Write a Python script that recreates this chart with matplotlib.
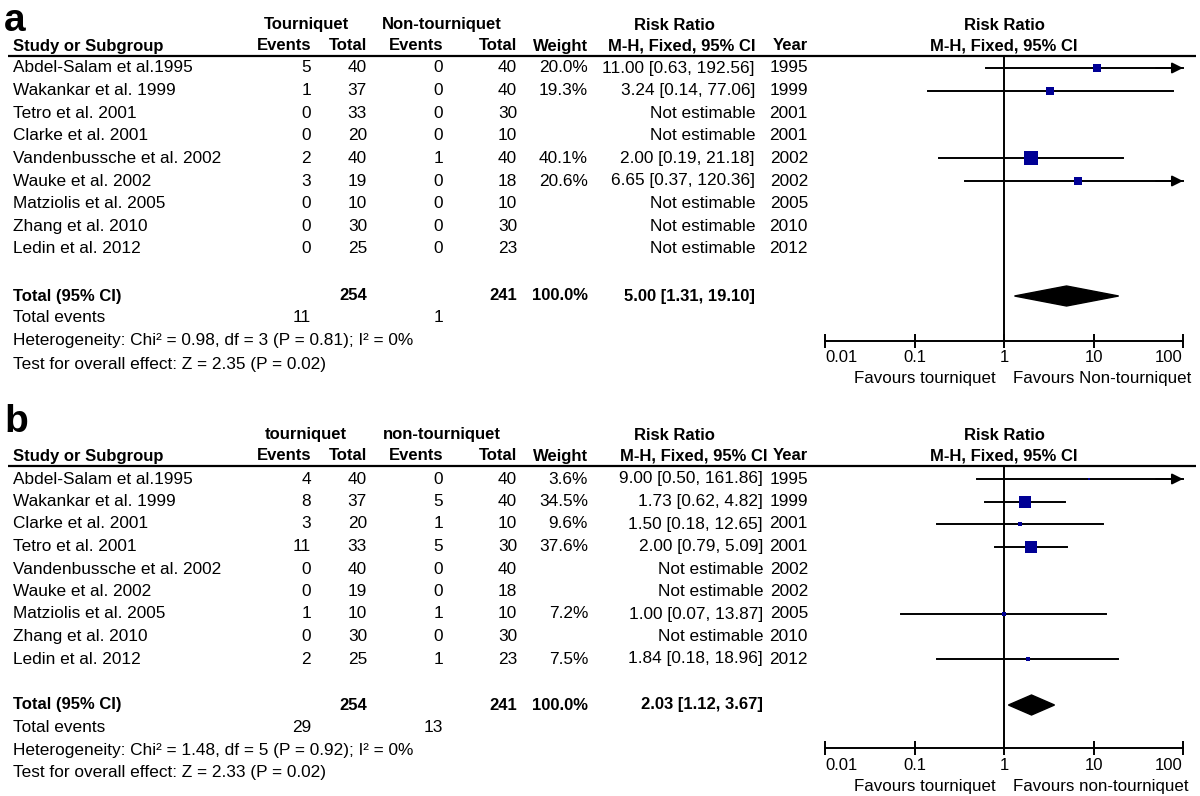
import numpy as np
import matplotlib.pyplot as plt

plt.rcParams['font.family'] = ['Liberation Sans', 'DejaVu Sans']

# ---- panel a data ----
studies_a = ['Abdel-Salam et al.1995', 'Wakankar et al. 1999', 'Tetro et al. 2001',
             'Clarke et al. 2001', 'Vandenbussche et al. 2002', 'Wauke et al. 2002',
             'Matziolis et al. 2005', 'Zhang et al. 2010', 'Ledin et al. 2012']
ev_t_a = [5, 1, 0, 0, 2, 3, 0, 0, 0]
tot_t_a = [40, 37, 33, 20, 40, 19, 10, 30, 25]
ev_c_a = [0, 0, 0, 0, 1, 0, 0, 0, 0]
tot_c_a = [40, 40, 30, 10, 40, 18, 10, 30, 23]
weight_a = [20.0, 19.3, None, None, 40.1, 20.6, None, None, None]
rr_a = [11.00, 3.24, None, None, 2.00, 6.65, None, None, None]
lo_a = [0.63, 0.14, None, None, 0.19, 0.37, None, None, None]
hi_a = [192.56, 77.06, None, None, 21.18, 120.36, None, None, None]
year_a = [1995, 1999, 2001, 2001, 2002, 2002, 2005, 2010, 2012]
total_a = [5.00, 1.31, 19.10]
sum_a = [254, 241, 11, 1]
het_a = 'Heterogeneity: Chi\u00b2 = 0.98, df = 3 (P = 0.81); I\u00b2 = 0%'
test_a = 'Test for overall effect: Z = 2.35 (P = 0.02)'

# ---- panel b data ----
studies_b = ['Abdel-Salam et al.1995', 'Wakankar et al. 1999', 'Clarke et al. 2001',
             'Tetro et al. 2001', 'Vandenbussche et al. 2002', 'Wauke et al. 2002',
             'Matziolis et al. 2005', 'Zhang et al. 2010', 'Ledin et al. 2012']
ev_t_b = [4, 8, 3, 11, 0, 0, 1, 0, 2]
tot_t_b = [40, 37, 20, 33, 40, 19, 10, 30, 25]
ev_c_b = [0, 5, 1, 5, 0, 0, 1, 0, 1]
tot_c_b = [40, 40, 10, 30, 40, 18, 10, 30, 23]
weight_b = [3.6, 34.5, 9.6, 37.6, None, None, 7.2, None, 7.5]
rr_b = [9.00, 1.73, 1.50, 2.00, None, None, 1.00, None, 1.84]
lo_b = [0.50, 0.62, 0.18, 0.79, None, None, 0.07, None, 0.18]
hi_b = [161.86, 4.82, 12.65, 5.09, None, None, 13.87, None, 18.96]
year_b = [1995, 1999, 2001, 2001, 2002, 2002, 2005, 2010, 2012]
total_b = [2.03, 1.12, 3.67]
sum_b = [254, 241, 29, 13]
het_b = 'Heterogeneity: Chi\u00b2 = 1.48, df = 5 (P = 0.92); I\u00b2 = 0%'
test_b = 'Test for overall effect: Z = 2.33 (P = 0.02)'

ticks = [0.01, 0.1, 1, 10, 100]
tick_labels = ['0.01', '0.1', '1', '10', '100']

fig = plt.figure(figsize=(12, 7.96), dpi=100)
tx = fig.add_axes([0, 0, 1, 1])
tx.set_xlim(0, 1200)
tx.set_ylim(796, 0)
tx.axis('off')

fx = fig.add_axes([825 / 1200, 0, (1183 - 825) / 1200, 1])
fx.set_xscale('log')
fx.set_xlim(0.01, 100)
fx.set_ylim(796, 0)
fx.axis('off')

navy = '#000095'
fs = 12.4   # body text
fb = 12     # bold headers
ft = 12     # axis tick labels


def panel(label, grp, studies, ev_t, tot_t, ev_c, tot_c, weight, rr, lo, hi, year,
          total, sums, het, test, favours, y0, ylab, row0, step, ytot, yaxis, rr_right, hd_right):
    # column right edges
    c_ev1, c_tot1, c_ev2, c_tot2, c_w, c_yr = 311, 367, 443, 517, 588, 808
    tx.text(4, ylab, label, fontsize=28, fontweight='bold', va='baseline', ha='left')
    hy1, hy2, hline = y0 + 10, y0 + 31, y0 + 41
    tx.text(306, hy1, grp[0], fontsize=fb, fontweight='bold', ha='center', va='center')
    tx.text(442, hy1, grp[1], fontsize=fb, fontweight='bold', ha='center', va='center')
    tx.text(674, hy1, 'Risk Ratio', fontsize=fb, fontweight='bold', ha='center', va='center')
    fx.text(1, hy1, 'Risk Ratio', fontsize=fb, fontweight='bold', ha='center', va='center')
    tx.text(13, hy2, 'Study or Subgroup', fontsize=fb, fontweight='bold', va='center')
    for x, s in [(c_ev1, 'Events'), (c_tot1, 'Total'), (c_ev2, 'Events'), (c_tot2, 'Total'),
                 (c_w, 'Weight'), (hd_right, 'M-H, Fixed, 95% CI'), (c_yr, 'Year')]:
        tx.text(x, hy2, s, fontsize=fb, fontweight='bold', ha='right', va='center')
    fx.text(1, hy2, 'M-H, Fixed, 95% CI', fontsize=fb, fontweight='bold', ha='center', va='center')
    tx.plot([8, 1196], [hline, hline], color='black', lw=1.6, solid_capstyle='butt')

    for i in range(len(studies)):
        y = row0 + i * step
        tx.text(13, y, studies[i], fontsize=fs, va='center')
        for x, v in [(c_ev1, ev_t[i]), (c_tot1, tot_t[i]), (c_ev2, ev_c[i]), (c_tot2, tot_c[i]),
                     (c_yr, year[i])]:
            tx.text(x, y, str(v), fontsize=fs, ha='right', va='center')
        if rr[i] is None:
            tx.text(rr_right, y, 'Not estimable', fontsize=fs, ha='right', va='center')
            continue
        tx.text(c_w, y, '%.1f%%' % weight[i], fontsize=fs, ha='right', va='center')
        tx.text(rr_right, y, '%.2f [%.2f, %.2f]' % (rr[i], lo[i], hi[i]),
                fontsize=fs, ha='right', va='center')
        right = min(hi[i], 100)
        fx.plot([lo[i], right], [y, y], color='black', lw=1.4, clip_on=False)
        if hi[i] > 100:
            fx.annotate('', xy=(100, y), xytext=(50, y),
                        arrowprops=dict(arrowstyle='-|>', color='black', lw=1.4,
                                        mutation_scale=16, shrinkA=0, shrinkB=0))
        side = 1.5 + 0.29 * weight[i]
        fx.plot(rr[i], y, marker='s', color=navy, markersize=side * 0.72,
                markeredgewidth=0, clip_on=False, zorder=3)

    # total row
    tx.text(13, ytot, 'Total (95% CI)', fontsize=fb, fontweight='bold', va='center')
    tx.text(c_tot1, ytot, str(sums[0]), fontsize=fb, fontweight='bold', ha='right', va='center')
    tx.text(c_tot2, ytot, str(sums[1]), fontsize=fb, fontweight='bold', ha='right', va='center')
    tx.text(c_w, ytot, '100.0%', fontsize=fb, fontweight='bold', ha='right', va='center')
    tx.text(rr_right, ytot, '%.2f [%.2f, %.2f]' % tuple(total), fontsize=fb,
            fontweight='bold', ha='right', va='center')
    fx.fill([total[1], total[0], total[2], total[0]], [ytot, ytot - 10, ytot, ytot + 10],
            color='black', clip_on=False)
    tx.text(13, ytot + 22, 'Total events', fontsize=fs, va='center')
    tx.text(c_ev1, ytot + 22, str(sums[2]), fontsize=fs, ha='right', va='center')
    tx.text(c_ev2, ytot + 22, str(sums[3]), fontsize=fs, ha='right', va='center')
    tx.text(13, ytot + 45, het, fontsize=fs, va='center')
    tx.text(13, ytot + 68, test, fontsize=fs, va='center')

    # forest axis
    fx.plot([1, 1], [hline, yaxis], color='black', lw=1.4, clip_on=False)
    fx.plot([0.01, 100], [yaxis, yaxis], color='black', lw=1.4, clip_on=False)
    fx.vlines(ticks, yaxis - 7, yaxis + 7, color='black', lw=1.4, clip_on=False)
    for t, s in zip(ticks, tick_labels):
        ha = 'left' if t == ticks[0] else ('right' if t == ticks[-1] else 'center')
        fx.text(t, yaxis + 17, s, fontsize=ft, ha=ha, va='center')
    fx.text(0.8, yaxis + 38, favours[0], fontsize=12.2, ha='right', va='center')
    fx.text(1.26, yaxis + 38, favours[1], fontsize=12.2, ha='left', va='center')


panel('a', ['Tourniquet', 'Non-tourniquet'], studies_a, ev_t_a, tot_t_a, ev_c_a, tot_c_a,
      weight_a, rr_a, lo_a, hi_a, year_a, total_a, sum_a, het_a, test_a,
      ['Favours tourniquet', 'Favours Non-tourniquet'],
      y0=15, ylab=31, row0=68, step=22.6, ytot=296, yaxis=341, rr_right=755, hd_right=755)
panel('b', ['tourniquet', 'non-tourniquet'], studies_b, ev_t_b, tot_t_b, ev_c_b, tot_c_b,
      weight_b, rr_b, lo_b, hi_b, year_b, total_b, sum_b, het_b, test_b,
      ['Favours tourniquet', 'Favours non-tourniquet'],
      y0=425, ylab=432, row0=479, step=22.5, ytot=705, yaxis=748, rr_right=763, hd_right=768)

fig.savefig('out.png', dpi=100)
